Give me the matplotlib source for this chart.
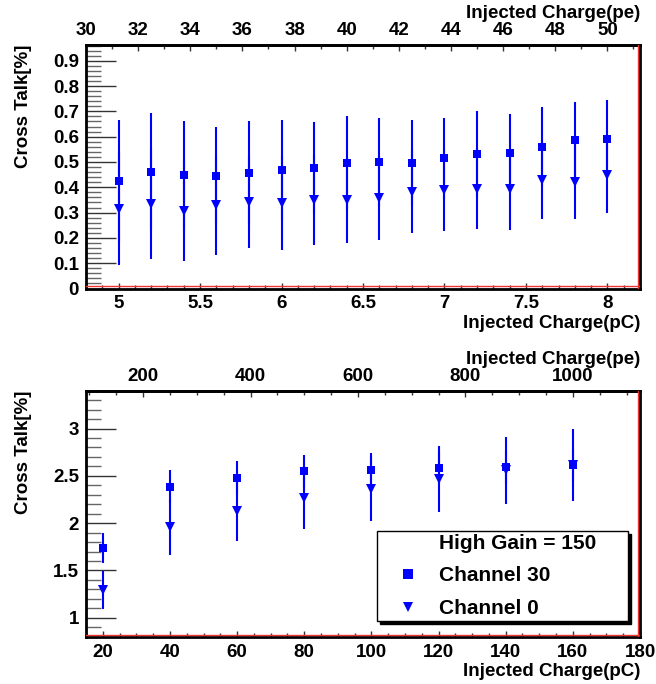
import numpy as np
import matplotlib
matplotlib.use("Agg")
import matplotlib.pyplot as plt
from matplotlib.ticker import MultipleLocator, FixedLocator, FuncFormatter
from matplotlib.lines import Line2D
import matplotlib.transforms as mtransforms

plt.rcParams['font.family'] = ['Liberation Sans', 'DejaVu Sans']
plt.rcParams['font.weight'] = 'bold'

# ---------------- data ----------------
PE_PER_PC = 6.25

pc_top = [5.0, 5.2, 5.4, 5.6, 5.8, 6.0, 6.2, 6.4, 6.6, 6.8, 7.0, 7.2, 7.4, 7.6, 7.8, 8.0]
ch30_top = [0.426, 0.462, 0.447, 0.444, 0.456, 0.467, 0.476, 0.496, 0.499, 0.496,
            0.514, 0.532, 0.536, 0.560, 0.587, 0.590]
ch30_top_err = [0.241, 0.231, 0.216, 0.194, 0.206, 0.197, 0.183, 0.184, 0.175, 0.171,
                0.160, 0.169, 0.153, 0.157, 0.149, 0.154]
ch0_top = [0.316, 0.333, 0.308, 0.329, 0.342, 0.337, 0.349, 0.350, 0.358, 0.382,
           0.388, 0.395, 0.392, 0.429, 0.422, 0.448]
ch0_top_err = [0.222, 0.218, 0.201, 0.195, 0.183, 0.186, 0.179, 0.171, 0.166, 0.164,
               0.161, 0.160, 0.160, 0.156, 0.149, 0.151]

pc_bot = [20, 40, 60, 80, 100, 120, 140, 160]
ch30_bot = [1.733, 2.386, 2.481, 2.551, 2.561, 2.586, 2.589, 2.611]
ch30_bot_err = [0.158, 0.172, 0.175, 0.168, 0.176, 0.170, 0.170, 0.170]
ch0_bot = [1.291, 1.961, 2.130, 2.270, 2.365, 2.470, 2.558, 2.614]
ch0_bot_err = [0.200, 0.294, 0.319, 0.333, 0.347, 0.347, 0.354, 0.379]

pe_ticks_top = [30, 32, 34, 36, 38, 40, 42, 44, 46, 48, 50]
pe_ticks_bot = [200, 400, 600, 800, 1000]

legend_title = 'High Gain = 150'
label_ch30 = 'Channel 30'
label_ch0 = 'Channel 0'
xlabel_pc = 'Injected Charge(pC)'
xlabel_pe = 'Injected Charge(pe)'
ylabel = 'Cross Talk[%]'

# ---------------- figure ----------------
W, H = 656, 684
fig = plt.figure(figsize=(W / 100, H / 100), dpi=100)
ax1 = fig.add_axes([86 / W, 1 - 288.5 / H, 554 / W, 243.5 / H])
ax2 = fig.add_axes([86 / W, 1 - 636.7 / H, 554 / W, 246 / H])

BLUE = '#0000ff'
FS = 13.5
fmt = FuncFormatter(lambda v, p: '%g' % round(v, 6))


def draw(ax, x, y30, e30, y0, e0):
    h0 = ax.errorbar(x, y0, yerr=e0, fmt='v', color=BLUE, ms=7, mew=0,
                     elinewidth=1.5, capsize=0, zorder=3)
    h30 = ax.errorbar(x, y30, yerr=e30, fmt='s', color=BLUE, ms=6.2, mew=0,
                      elinewidth=1.5, capsize=0, zorder=4)
    return h30, h0


def style(ax, xlim, ylim, xmaj, xmin, ymaj, ymin, pe_ticks, pemin):
    ax.set_xlim(*xlim)
    ax.set_ylim(*ylim)
    ax.xaxis.set_major_locator(MultipleLocator(xmaj))
    ax.xaxis.set_minor_locator(MultipleLocator(xmin))
    ax.yaxis.set_major_locator(MultipleLocator(ymaj))
    ax.yaxis.set_minor_locator(MultipleLocator(ymin))
    ax.xaxis.set_major_formatter(fmt)
    ax.yaxis.set_major_formatter(fmt)
    ax.tick_params(axis='x', which='major', direction='in', length=4, width=1,
                   color='#333333', labelsize=FS, pad=5)
    ax.tick_params(axis='x', which='minor', direction='in', length=3, width=1,
                   color='#333333')
    ax.tick_params(axis='y', which='major', direction='in', length=21.5, width=1,
                   color='#333333', labelsize=FS, pad=5)
    ax.tick_params(axis='y', which='minor', direction='in', length=11, width=1,
                   color='#666666')
    for lab in ax.get_xticklabels() + ax.get_yticklabels():
        lab.set_fontweight('bold')
    for s in ax.spines.values():
        s.set_linewidth(2)
        s.set_color('black')
    ax.set_xlabel(xlabel_pc, loc='right', fontsize=FS, fontweight='bold', labelpad=2)
    ax.set_ylabel(ylabel, loc='top', fontsize=FS, fontweight='bold')
    ax.yaxis.set_label_coords(-0.098, 1.0)

    sec = ax.secondary_xaxis('top', functions=(lambda v: v * PE_PER_PC,
                                               lambda v: v / PE_PER_PC))
    sec.xaxis.set_major_locator(FixedLocator(pe_ticks))
    lo, hi = xlim[0] * PE_PER_PC, xlim[1] * PE_PER_PC
    start = np.ceil(lo / pemin) * pemin
    sec.xaxis.set_minor_locator(FixedLocator(np.arange(start, hi, pemin)))
    sec.xaxis.set_major_formatter(fmt)
    sec.tick_params(axis='x', which='major', direction='in', length=4, width=1,
                    color='#333333', labelsize=FS, pad=4)
    sec.tick_params(axis='x', which='minor', direction='in', length=3, width=1,
                    color='#333333')
    for lab in sec.get_xticklabels():
        lab.set_fontweight('bold')
    sec.spines['top'].set_linewidth(2)
    sec.set_xlabel(xlabel_pe, loc='right', fontsize=FS, fontweight='bold', labelpad=3)

    # thin red frame lines inside right and bottom edges (ROOT style)
    tr_r = mtransforms.offset_copy(ax.transAxes, fig=fig, x=-2.2, y=0, units='dots')
    tr_b = mtransforms.offset_copy(ax.transAxes, fig=fig, x=0, y=2.2, units='dots')
    ax.add_line(Line2D([1, 1], [0, 1], transform=tr_r, color='#ee3333', lw=1, zorder=5))
    ax.add_line(Line2D([0, 1], [0, 0], transform=tr_b, color='#ee3333', lw=1, zorder=5))


draw(ax1, pc_top, ch30_top, ch30_top_err, ch0_top, ch0_top_err)
style(ax1, (4.8, 8.2), (0, 0.962), 0.5, 0.1, 0.1, 0.02, pe_ticks_top, 1)

h30, h0 = draw(ax2, pc_bot, ch30_bot, ch30_bot_err, ch0_bot, ch0_bot_err)
style(ax2, (15, 180), (0.8, 3.4), 20, 5, 0.5, 0.1, pe_ticks_bot, 50)

m30 = Line2D([], [], linestyle='none', marker='s', color=BLUE, ms=7, mew=0)
m0 = Line2D([], [], linestyle='none', marker='v', color=BLUE, ms=7.5, mew=0)
blank = Line2D([], [], linestyle='none')
leg = ax2.legend([blank, m30, m0], [legend_title, label_ch30, label_ch0],
                 loc='upper left',
                 bbox_to_anchor=((377 - 86) / 554, (636.7 - 623) / 246,
                                 (628 - 377) / 554, (623 - 531) / 246),
                 mode='expand', prop={'size': 15, 'weight': 'bold'},
                 frameon=True, fancybox=False, edgecolor='black',
                 framealpha=1, borderaxespad=0, borderpad=0.15,
                 labelspacing=0.64, handlelength=2.68, handletextpad=0.16,
                 shadow={'color': 'black', 'alpha': 1})
leg.get_frame().set_linewidth(1)

fig.savefig('out.png', dpi=100)
